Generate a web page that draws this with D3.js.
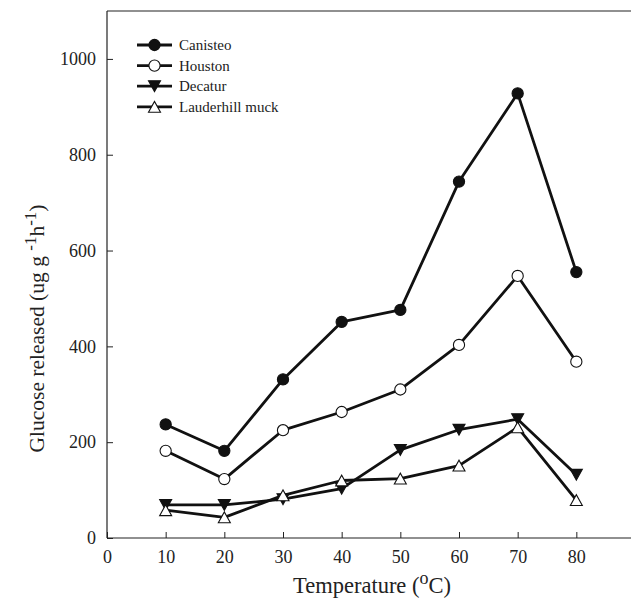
<!DOCTYPE html>
<html>
<head>
<meta charset="utf-8">
<script src="https://cdn.jsdelivr.net/npm/d3@7"></script>
<style>
  body { margin: 0; background: #fff; }
  svg { display: block; }
  text { font-family: "Liberation Serif", "Times New Roman", serif; fill: #222; }
</style>
</head>
<body>
<div id="chart"></div>
<script>
// data
const temps = [10, 20, 30, 40, 50, 60, 70, 80]
const canisteo = [237, 182, 331, 451, 476, 744, 928, 555]
const houston = [182, 123, 225, 263, 310, 403, 547, 368]
const decatur = [69, 69, 81, 103, 184, 226, 248, 132]
const lauderhill = [58, 43, 89, 120, 124, 151, 231, 79]
const xTicks = [0, 10, 20, 30, 40, 50, 60, 70, 80]
const yTicks = [0, 200, 400, 600, 800, 1000]

const series = [
  {name: "Canisteo", values: canisteo, marker: "circle", fill: "#111"},
  {name: "Houston", values: houston, marker: "circle", fill: "#fff"},
  {name: "Decatur", values: decatur, marker: "down", fill: "#111"},
  {name: "Lauderhill muck", values: lauderhill, marker: "up", fill: "#fff"}
]

const W = 631, H = 602
const margin = {top: 11, left: 107, bottom: 64}
const width = 528
const height = H - margin.top - margin.bottom

const svg = d3.select("#chart").append("svg")
    .attr("width", W)
    .attr("height", H)
  .append("g")
    .attr("transform", `translate(${margin.left},${margin.top})`)

const x = d3.scaleLinear().domain([0, 90]).range([0, width])
const y = d3.scaleLinear().domain([0, 1100]).range([height, 0])

// frame: top line (left and bottom come from the axes)
svg.append("line").attr("x1", 0).attr("x2", width).attr("y1", 0).attr("y2", 0)
  .attr("stroke", "#222").attr("stroke-width", 1.2)

const xAxis = svg.append("g")
  .attr("transform", `translate(0,${height})`)
  .call(d3.axisBottom(x).tickValues(xTicks).tickFormat(d3.format("d"))
    .tickSizeInner(-6).tickSizeOuter(0).tickPadding(12))
const yAxis = svg.append("g")
  .call(d3.axisLeft(y).tickValues(yTicks).tickFormat(d3.format("d"))
    .tickSizeInner(-6).tickSizeOuter(0).tickPadding(11))

for (const ax of [xAxis, yAxis]) {
  ax.select(".domain").attr("stroke", "#222").attr("stroke-width", 1.2)
  ax.selectAll(".tick line").attr("stroke", "#222")
  ax.selectAll(".tick text").attr("font-size", 18).attr("fill", "#222")
}
yAxis.select(".domain").attr("d", `M0,${height}V0`)
xAxis.select(".domain").attr("d", `M0,0H${width}`)

// markers
function triangle(s, down) {
  const h = s * 0.9
  if (down) return `M${-s / 2},${-h / 2}L${s / 2},${-h / 2}L0,${h / 2}Z`
  return `M${-s / 2},${h / 2}L${s / 2},${h / 2}L0,${-h / 2}Z`
}
function drawMarker(g, s) {
  if (s.marker === "circle") {
    g.append("circle").attr("r", 5.6)
      .attr("fill", s.fill).attr("stroke", "#111").attr("stroke-width", 1.1)
  } else {
    g.append("path").attr("d", triangle(12, s.marker === "down"))
      .attr("fill", s.fill).attr("stroke", "#111").attr("stroke-width", 1.1)
  }
}

const line = d3.line().x(d => x(d[0])).y(d => y(d[1]))

series.forEach(s => {
  const pts = temps.map((t, i) => [t, s.values[i]])
  svg.append("path")
    .datum(pts)
    .attr("d", line)
    .attr("fill", "none")
    .attr("stroke", "#111")
    .attr("stroke-width", 2.8)
    .attr("stroke-linejoin", "round")
  svg.selectAll(null)
    .data(pts)
    .join("g")
      .attr("transform", d => `translate(${x(d[0])},${y(d[1])})`)
      .each(function() { drawMarker(d3.select(this), s) })
})

// legend
const legend = svg.append("g").attr("transform", "translate(0,34)")
series.forEach((s, i) => {
  const row = legend.append("g").attr("transform", `translate(0,${i * 20.6})`)
  row.append("line").attr("x1", 30).attr("x2", 65).attr("y1", 0).attr("y2", 0)
    .attr("stroke", "#111").attr("stroke-width", 2.8)
  drawMarker(row.append("g").attr("transform", "translate(47.5,0)"), s)
  row.append("text").attr("x", 72).attr("y", 5).attr("font-size", 15).text(s.name)
})

// axis titles
const xt = svg.append("text")
  .attr("x", 265).attr("y", height + 55)
  .attr("text-anchor", "middle")
  .attr("font-size", 22.5)
xt.append("tspan").text("Temperature (")
xt.append("tspan").attr("dy", -9).attr("font-size", 18).text("o")
xt.append("tspan").attr("dy", 9).text("C)")

const yt = svg.append("text")
  .attr("transform", `translate(-63,${height / 2 + 54}) rotate(-90)`)
  .attr("text-anchor", "middle")
  .attr("font-size", 21.5)
yt.append("tspan").text("Glucose released (ug g ")
yt.append("tspan").attr("dy", -8).attr("font-size", 17).text("-1")
yt.append("tspan").attr("dy", 8).text("h")
yt.append("tspan").attr("dy", -8).attr("font-size", 17).text("-1")
yt.append("tspan").attr("dy", 8).text(")")
</script>
</body>
</html>
